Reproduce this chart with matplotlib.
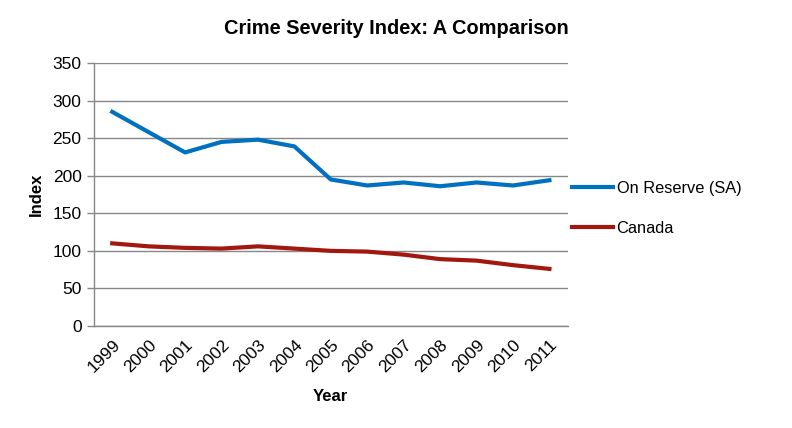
import matplotlib
matplotlib.use('Agg')
import matplotlib.pyplot as plt

plt.rcParams['font.family'] = ['Liberation Sans', 'DejaVu Sans']

# Data
years = ['1999', '2000', '2001', '2002', '2003', '2004', '2005',
         '2006', '2007', '2008', '2009', '2010', '2011']
on_reserve = [285, 258, 231, 245, 248, 239, 195, 187, 191, 186, 191, 187, 194]
canada = [110, 106, 104, 103, 106, 103, 100, 99, 95, 89, 87, 81, 76]
y_ticks = [0, 50, 100, 150, 200, 250, 300, 350]

blue = '#0070C0'
red = '#A0180E'
grid_gray = '#878787'

fig = plt.figure(figsize=(7.92, 4.28), dpi=100)
ax = fig.add_axes([0.1187, 0.2383, 0.598, 0.6145])

x = list(range(len(years)))
ax.plot(x, on_reserve, color=blue, linewidth=3, label='On Reserve (SA)')
ax.plot(x, canada, color=red, linewidth=3, label='Canada')

ax.set_xlim(-0.5, len(years) - 0.5)
ax.set_ylim(0, 350)
ax.set_yticks(y_ticks)
ax.set_xticks(x)
ax.set_xticklabels(years, rotation=45, ha='right', rotation_mode='anchor')
ax.tick_params(axis='x', length=0, labelsize=12.5, pad=8)
ax.tick_params(axis='y', length=5, width=1, color=grid_gray, labelsize=12.5, pad=4)

ax.grid(axis='y', color=grid_gray, linewidth=1)
ax.set_axisbelow(True)
for side in ['top', 'right']:
    ax.spines[side].set_visible(False)
for side in ['left', 'bottom']:
    ax.spines[side].set_color(grid_gray)
    ax.spines[side].set_linewidth(1)

ax.set_xlabel('Year', fontsize=12, fontweight='bold', labelpad=10)
ax.set_ylabel('Index', fontsize=12, fontweight='bold', labelpad=6)

fig.suptitle('Crime Severity Index: A Comparison', x=0.5, y=0.955,
             fontsize=14.4, fontweight='bold')

fig.legend(loc='center left', bbox_to_anchor=(0.704, 0.513), frameon=False,
           fontsize=11.8, handlelength=2.5, handletextpad=0.2, labelspacing=1.5)

fig.savefig('out.png', dpi=100)
